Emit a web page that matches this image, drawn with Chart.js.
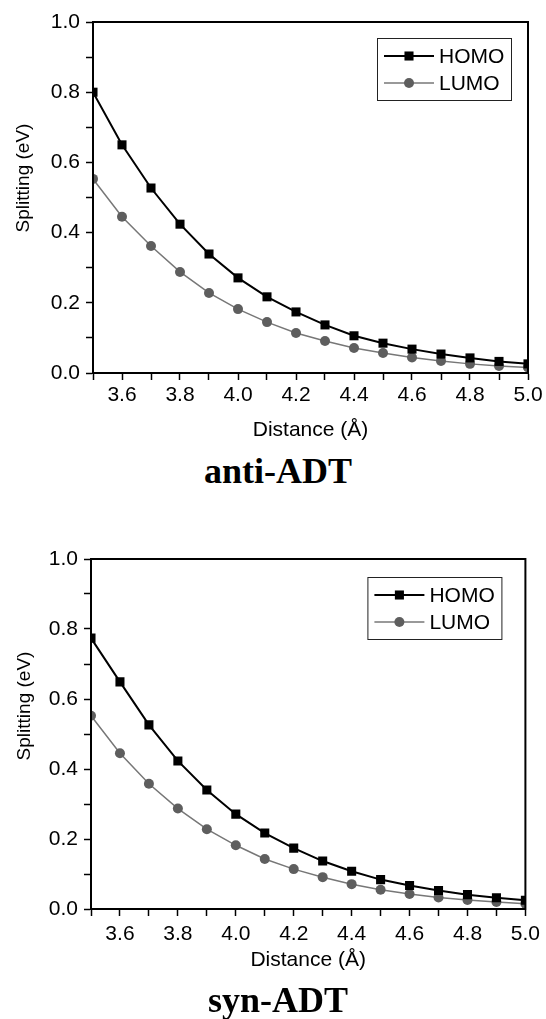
<!DOCTYPE html>
<html>
<head>
<meta charset="utf-8">
<script src="https://cdn.jsdelivr.net/npm/chart.js@4.4.0/dist/chart.umd.min.js"></script>
<style>
  html, body { margin: 0; padding: 0; background: #fff; }
  body { width: 546px; height: 1019px; position: relative; overflow: hidden; }
  .panel { position: absolute; left: 0; width: 546px; height: 445px; }
  .caption {
    position: absolute; left: 5px; width: 546px; text-align: center;
    font: bold 36px/36px "Liberation Serif", "Times New Roman", serif; color: #000;
  }
</style>
</head>
<body>
<div class="panel" style="top:0"><canvas id="antiChart" width="546" height="445"></canvas></div>
<div class="caption" style="top:453px">anti-ADT</div>
<div class="panel" style="top:537px"><canvas id="synChart" width="546" height="445"></canvas></div>
<div class="caption" style="top:982px">syn-ADT</div>
<script>
// data
const distances = [3.5, 3.6, 3.7, 3.8, 3.9, 4.0, 4.1, 4.2, 4.3, 4.4, 4.5, 4.6, 4.7, 4.8, 4.9, 5.0];
const antiHomo = [0.800, 0.650, 0.527, 0.424, 0.339, 0.271, 0.217, 0.174, 0.137, 0.106, 0.085, 0.068, 0.054, 0.043, 0.033, 0.026];
const antiLumo = [0.553, 0.445, 0.362, 0.288, 0.228, 0.182, 0.145, 0.114, 0.091, 0.071, 0.057, 0.044, 0.034, 0.026, 0.020, 0.016];
const synHomo = [0.774, 0.649, 0.526, 0.423, 0.340, 0.271, 0.217, 0.174, 0.137, 0.108, 0.084, 0.067, 0.053, 0.041, 0.032, 0.025];
const synLumo = [0.552, 0.445, 0.358, 0.287, 0.228, 0.182, 0.143, 0.114, 0.091, 0.071, 0.055, 0.043, 0.033, 0.026, 0.020, 0.015];
const seriesNames = ["HOMO", "LUMO"];
const xTitle = "Distance (Å)";
const yTitle = "Splitting (eV)";

Chart.defaults.font.family = "'Liberation Sans', Arial, sans-serif";
Chart.defaults.color = "#000";

const FONT = "'Liberation Sans', Arial, sans-serif";

// frame around plot, rotated y title and the boxed legend
const framePlugin = {
  id: "plotFrame",
  afterDraw(chart, args, opts) {
    const { ctx, chartArea: a } = chart;
    ctx.save();
    ctx.strokeStyle = "#000";
    ctx.lineWidth = 2;
    ctx.strokeRect(a.left, a.top, a.right - a.left, a.bottom - a.top);

    // y title
    ctx.save();
    ctx.font = "19px " + FONT;
    ctx.fillStyle = "#000";
    ctx.translate(opts.yTitleX, opts.yTitleY);
    ctx.rotate(-Math.PI / 2);
    ctx.textAlign = "center";
    ctx.textBaseline = "middle";
    ctx.fillText(yTitle, 0, 0);
    ctx.restore();

    // legend
    const bw = 134, bh = 62;
    const bx = a.right - opts.legendRight - bw;
    const by = a.top + opts.legendTop;
    ctx.lineWidth = 1;
    ctx.strokeStyle = "#222";
    ctx.strokeRect(bx + 0.5, by + 0.5, bw, bh);
    const rows = [18, 45];
    chart.data.datasets.forEach((ds, i) => {
      const y = by + rows[i];
      ctx.strokeStyle = ds.borderColor;
      ctx.lineWidth = ds.borderWidth;
      ctx.beginPath();
      ctx.moveTo(bx + 7, y);
      ctx.lineTo(bx + 57, y);
      ctx.stroke();
      ctx.fillStyle = ds.pointBackgroundColor;
      const cx = bx + 32;
      if (ds.pointStyle === "rect") {
        const s = ds.pointRadius * Math.SQRT1_2;
        ctx.fillRect(cx - s, y - s, 2 * s, 2 * s);
      } else {
        ctx.beginPath();
        ctx.arc(cx, y, ds.pointRadius, 0, Math.PI * 2);
        ctx.fill();
      }
      ctx.fillStyle = "#000";
      ctx.font = "21px " + FONT;
      ctx.textAlign = "left";
      ctx.textBaseline = "middle";
      ctx.fillText(ds.label, bx + 62, y + 1);
    });
    ctx.restore();
  },
};

function points(ys) {
  return distances.map((x, i) => ({ x: x, y: ys[i] }));
}

function evenLabel(v) {
  return Math.round(v * 10) % 2 === 0 ? v.toFixed(1) : "";
}

function makeChart(canvasId, homo, lumo, geom) {
  const ctx = document.getElementById(canvasId).getContext("2d");
  return new Chart(ctx, {
    type: "line",
    data: {
      datasets: [
        {
          label: seriesNames[0],
          data: points(homo),
          borderColor: "#000",
          borderWidth: 2,
          pointStyle: "rect",
          pointRadius: 6.4,
          pointBackgroundColor: "#000",
          pointBorderWidth: 0,
          tension: 0,
          clip: 0,
        },
        {
          label: seriesNames[1],
          data: points(lumo),
          borderColor: "#777",
          borderWidth: 1.5,
          pointStyle: "circle",
          pointRadius: 5,
          pointBackgroundColor: "#5e5e5e",
          pointBorderWidth: 0,
          tension: 0,
          clip: 0,
        },
      ],
    },
    options: {
      responsive: false,
      animation: false,
      events: [],
      layout: { padding: { top: geom.padTop, right: geom.padRight, left: 0, bottom: 0 } },
      plugins: {
        legend: { display: false },
        tooltip: { enabled: false },
        plotFrame: geom,
      },
      scales: {
        x: {
          type: "linear",
          min: 3.5,
          max: 5.0,
          border: { display: true, color: "#000", width: 2 },
          grid: { drawOnChartArea: false, drawTicks: true, tickLength: 7, tickColor: "#000", tickWidth: 1.5 },
          ticks: {
            stepSize: 0.1,
            autoSkip: false,
            maxRotation: 0,
            padding: geom.xTickPad,
            color: "#000",
            font: { size: 21 },
            callback: evenLabel,
          },
          title: {
            display: true,
            text: xTitle,
            color: "#000",
            font: { size: 21 },
            padding: { top: 0, bottom: geom.xTitlePad },
          },
          afterFit: (s) => { s.height = geom.xAxisH; },
        },
        y: {
          type: "linear",
          min: 0,
          max: 1.0,
          border: { display: true, color: "#000", width: 2 },
          grid: { drawOnChartArea: false, drawTicks: true, tickLength: 7, tickColor: "#000", tickWidth: 1.5 },
          ticks: {
            stepSize: 0.1,
            autoSkip: false,
            padding: 6,
            color: "#000",
            font: { size: 21 },
            callback: evenLabel,
          },
          afterFit: (s) => { s.width = geom.yAxisW; },
        },
      },
    },
    plugins: [framePlugin],
  });
}

makeChart("antiChart", antiHomo, antiLumo, {
  padTop: 22, padRight: 18, yAxisW: 93, xAxisH: 72, xTickPad: 3, xTitlePad: 2,
  yTitleX: 24, yTitleY: 178, legendRight: 17, legendTop: 16,
});
makeChart("synChart", synHomo, synLumo, {
  padTop: 22, padRight: 20, yAxisW: 91, xAxisH: 73, xTickPad: 6, xTitlePad: 9,
  yTitleX: 25, yTitleY: 169, legendRight: 24, legendTop: 18,
});
</script>
</body>
</html>
